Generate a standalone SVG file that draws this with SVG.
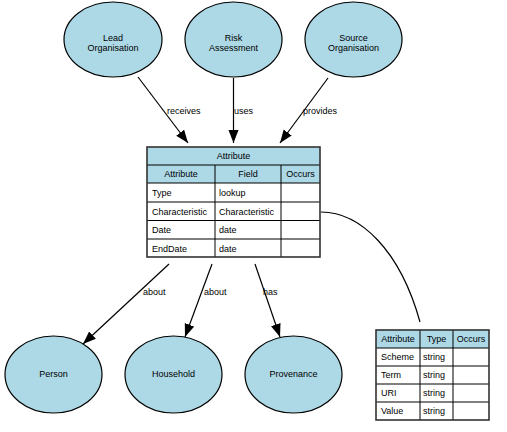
<svg xmlns="http://www.w3.org/2000/svg" width="507" height="432" viewBox="0 0 507 432">
<style>
text{font-family:"Liberation Sans",Arial,sans-serif;font-size:9px;fill:#000}
.n{fill:#add8e6;stroke:#000;stroke-width:1.2}
.m{text-anchor:middle}
.e{stroke:#000;stroke-width:1.2;fill:none}
.h{fill:#add8e6}
.c{fill:#fff}
.g{stroke:#000;stroke-width:1;fill:none}
.o{stroke:#333;stroke-width:1.6;fill:none}
</style>
<defs>
<marker id="a" markerUnits="userSpaceOnUse" markerWidth="14" markerHeight="11" refX="13" refY="5" orient="auto">
<path d="M0,0 L13,5 L0,10 z" fill="#000"/>
</marker>
</defs>
<rect width="507" height="432" fill="#fff"/>
<g id="connectors">
<line class="e" x1="138" y1="77" x2="188" y2="143" marker-end="url(#a)"/>
<text x="167" y="114">receives</text>
<line class="e" x1="233.5" y1="78" x2="233.5" y2="143" marker-end="url(#a)"/>
<text x="234" y="114">uses</text>
<line class="e" x1="328" y1="78" x2="280" y2="143" marker-end="url(#a)"/>
<text x="303" y="114">provides</text>
<line class="e" x1="169" y1="264" x2="83" y2="344" marker-end="url(#a)"/>
<text x="143" y="295">about</text>
<line class="e" x1="212" y1="264" x2="185" y2="337" marker-end="url(#a)"/>
<text x="204" y="295">about</text>
<line class="e" x1="255" y1="264" x2="280" y2="337" marker-end="url(#a)"/>
<text x="263" y="295">has</text>
<path class="e" d="M321,212 C360,212 400,250 420,322"/>
</g>
<g id="lead">
<ellipse class="n" cx="113" cy="39.5" rx="49" ry="37.5"/>
<text class="m" x="113" y="41">Lead</text>
<text class="m" x="113" y="51">Organisation</text>
</g>
<g id="risk">
<ellipse class="n" cx="233.5" cy="39.5" rx="48.5" ry="37.5"/>
<text class="m" x="233.5" y="41">Risk</text>
<text class="m" x="233.5" y="51">Assessment</text>
</g>
<g id="source">
<ellipse class="n" cx="353.5" cy="39.5" rx="48.5" ry="37.5"/>
<text class="m" x="353.5" y="41">Source</text>
<text class="m" x="353.5" y="51">Organisation</text>
</g>
<g id="attribute">
<rect class="h" x="147" y="147" width="173" height="36"/>
<rect class="c" x="147" y="183" width="173" height="74"/>
<g class="g">
<line x1="147" y1="165" x2="320" y2="165"/>
<line x1="147" y1="183" x2="320" y2="183"/>
<line x1="147" y1="202" x2="320" y2="202"/>
<line x1="147" y1="220.5" x2="320" y2="220.5"/>
<line x1="147" y1="239" x2="320" y2="239"/>
<line x1="215" y1="165" x2="215" y2="257"/>
<line x1="281" y1="165" x2="281" y2="257"/>
</g>
<rect class="o" x="147" y="147" width="173" height="110"/>
<text class="m" x="233.5" y="159">Attribute</text>
<text class="m" x="181" y="177">Attribute</text>
<text class="m" x="248" y="177">Field</text>
<text class="m" x="300.5" y="177">Occurs</text>
<text x="152" y="196">Type</text>
<text x="219" y="196">lookup</text>
<text x="152" y="214.5">Characteristic</text>
<text x="219" y="214.5">Characteristic</text>
<text x="152" y="233">Date</text>
<text x="219" y="233">date</text>
<text x="152" y="251.5">EndDate</text>
<text x="219" y="251.5">date</text>
</g>
<g id="term">
<rect class="h" x="376" y="330" width="113" height="18"/>
<rect class="c" x="376" y="348" width="113" height="72"/>
<g class="g">
<line x1="376" y1="348" x2="489" y2="348"/>
<line x1="376" y1="366" x2="489" y2="366"/>
<line x1="376" y1="384" x2="489" y2="384"/>
<line x1="376" y1="402" x2="489" y2="402"/>
<line x1="420" y1="330" x2="420" y2="420"/>
<line x1="453" y1="330" x2="453" y2="420"/>
</g>
<rect class="o" x="376" y="330" width="113" height="90"/>
<text class="m" x="398" y="342">Attribute</text>
<text class="m" x="436.5" y="342">Type</text>
<text class="m" x="471" y="342">Occurs</text>
<text x="381" y="360">Scheme</text>
<text x="423" y="360">string</text>
<text x="381" y="378">Term</text>
<text x="423" y="378">string</text>
<text x="381" y="396">URI</text>
<text x="423" y="396">string</text>
<text x="381" y="414">Value</text>
<text x="423" y="414">string</text>
</g>
<g id="person">
<ellipse class="n" cx="53.5" cy="374.5" rx="48.5" ry="38.5"/>
<text class="m" x="53.5" y="377">Person</text>
</g>
<g id="household">
<ellipse class="n" cx="173.5" cy="374.5" rx="48.5" ry="38.5"/>
<text class="m" x="173.5" y="377">Household</text>
</g>
<g id="provenance">
<ellipse class="n" cx="293.5" cy="374.5" rx="48.5" ry="38.5"/>
<text class="m" x="293.5" y="377">Provenance</text>
</g>
</svg>
